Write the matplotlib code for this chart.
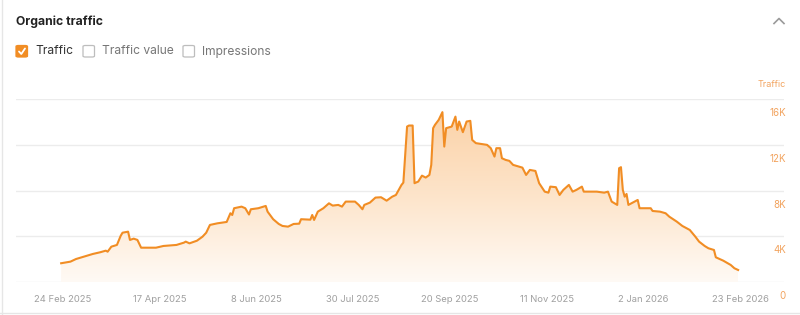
import numpy as np
import pandas as pd
import matplotlib
matplotlib.use('Agg')
import matplotlib.pyplot as plt
import matplotlib.dates as mdates
from matplotlib.colors import LinearSegmentedColormap
from matplotlib.patches import FancyBboxPatch

plt.rcParams['font.family'] = ['Inter', 'DejaVu Sans']

# (date, organic traffic)
dates = [
    '2025-02-23', '2025-02-28', '2025-03-03', '2025-03-07', '2025-03-12', '2025-03-16', '2025-03-19',
    '2025-03-20', '2025-03-22', '2025-03-25', '2025-03-27', '2025-03-28', '2025-03-31', '2025-04-01',
    '2025-04-03', '2025-04-05', '2025-04-07', '2025-04-15', '2025-04-19', '2025-04-26', '2025-04-30',
    '2025-05-01', '2025-05-03', '2025-05-07', '2025-05-10', '2025-05-12', '2025-05-14', '2025-05-18',
    '2025-05-23', '2025-05-25', '2025-05-26', '2025-05-27', '2025-05-31', '2025-06-02', '2025-06-04',
    '2025-06-05', '2025-06-09', '2025-06-13', '2025-06-14', '2025-06-17', '2025-06-20', '2025-06-22',
    '2025-06-25', '2025-06-28', '2025-07-01', '2025-07-02', '2025-07-07', '2025-07-08', '2025-07-09',
    '2025-07-11', '2025-07-14', '2025-07-17', '2025-07-19', '2025-07-22', '2025-07-24', '2025-07-26',
    '2025-07-31', '2025-08-02', '2025-08-04', '2025-08-05', '2025-08-08', '2025-08-11', '2025-08-14',
    '2025-08-17', '2025-08-20', '2025-08-22', '2025-08-25', '2025-08-26', '2025-08-28', '2025-08-29',
    '2025-08-31', '2025-09-01', '2025-09-03', '2025-09-05', '2025-09-07', '2025-09-09', '2025-09-10',
    '2025-09-11', '2025-09-12', '2025-09-14', '2025-09-16', '2025-09-17', '2025-09-18', '2025-09-21',
    '2025-09-23', '2025-09-24', '2025-09-25', '2025-09-27', '2025-09-29', '2025-10-01', '2025-10-02',
    '2025-10-04', '2025-10-10', '2025-10-12', '2025-10-14', '2025-10-15', '2025-10-17', '2025-10-18',
    '2025-10-20', '2025-10-22', '2025-10-24', '2025-10-29', '2025-10-31', '2025-11-02', '2025-11-05',
    '2025-11-07', '2025-11-10', '2025-11-12', '2025-11-13', '2025-11-16', '2025-11-18', '2025-11-20',
    '2025-11-23', '2025-11-25', '2025-11-27', '2025-11-30', '2025-12-01', '2025-12-08', '2025-12-12',
    '2025-12-14', '2025-12-16', '2025-12-19', '2025-12-20', '2025-12-21', '2025-12-22', '2025-12-23',
    '2025-12-24', '2025-12-25', '2025-12-30', '2025-12-31', '2026-01-06', '2026-01-07', '2026-01-11',
    '2026-01-14', '2026-01-16', '2026-01-20', '2026-01-23', '2026-01-27', '2026-01-30', '2026-02-01',
    '2026-02-04', '2026-02-06', '2026-02-09', '2026-02-10', '2026-02-14', '2026-02-18', '2026-02-20',
    '2026-02-22',
]
traffic = [
    1640, 1780, 2010, 2210, 2450, 2600, 2740,
    2650, 3090, 3240, 4030, 4310, 4400, 3680,
    3790, 3680, 3000, 3000, 3150, 3240, 3440,
    3530, 3380, 3610, 3960, 4310, 4990, 5130,
    5250, 6010, 5860, 6450, 6590, 6450, 5900,
    6360, 6450, 6650, 6150, 5490, 5075, 4900,
    4840, 5075, 5100, 5490, 5450, 5860, 5425,
    6150, 6450, 6880, 6680, 6740, 6590, 7030,
    7030, 6740, 6360, 6740, 6940, 7380, 7410,
    7110, 7460, 7610, 8490, 8690, 13590, 13680,
    13680, 8640, 8780, 9300, 9130, 9360, 10240,
    13450, 13740, 14175, 14850, 11840, 13450, 13590,
    14460, 13300, 14030, 13100, 14030, 14090, 12425,
    12140, 11990, 11700, 10965, 11700, 11700, 10820,
    10675, 10590, 10240, 10000, 9360, 9800, 9710,
    8640, 7900, 7810, 8340, 8290, 7610, 8050,
    8490, 7900, 8050, 8340, 7900, 7900, 7810,
    7900, 7030, 6740, 9950, 10040, 8050, 7460,
    7700, 6740, 7175, 6450, 6450, 6210, 6150,
    6010, 5710, 5280, 4900, 4550, 3960, 3530,
    3150, 2950, 2800, 2160, 1865, 1490, 1200,
    1050,
]
x_ticks = ['2025-02-24', '2025-04-17', '2025-06-08', '2025-07-30',
           '2025-09-20', '2025-11-11', '2026-01-02', '2026-02-23']
y_ticks = [0, 4000, 8000, 12000, 16000]
y_tick_labels = ['0', '4K', '8K', '12K', '16K']

LINE = '#f18d24'
TICK_ORANGE = '#f2a35e'
GREY = '#a0a0a0'

W, H = 800, 315


def px(x, y):
    # pixel (from top-left) -> figure fraction
    return x / W, 1 - y / H


def main():
    fig = plt.figure(figsize=(8, 3.15), dpi=100)

    # card border
    fig.add_artist(plt.Line2D([1.5 / W, 1.5 / W], [0, 1], color='#e6e6e6', lw=1))
    fig.add_artist(plt.Line2D([0, 1], [1 - 312.5 / H] * 2, color='#e6e6e6', lw=1))

    # header
    fig.text(*px(16, 22), 'Organic traffic', fontsize=8.8, fontweight='bold',
             color='#222222', va='center', ha='left')
    # collapse chevron
    fig.add_artist(plt.Line2D([774 / W, 779 / W, 784 / W],
                              [1 - 23.5 / H, 1 - 18.5 / H, 1 - 23.5 / H],
                              color='#9a9a9a', lw=1.2))

    # checkboxes
    boxes = [(16, 'Traffic', True), (83, 'Traffic value', False), (183, 'Impressions', False)]
    for bx, label, checked in boxes:
        x0, y0 = px(bx, 57)
        size_w, size_h = 11.5 / W, 11.5 / H
        box = FancyBboxPatch((x0, y0), size_w, size_h,
                             boxstyle='round,pad=0,rounding_size=0.003',
                             transform=fig.transFigure,
                             facecolor=LINE if checked else 'white',
                             edgecolor=LINE if checked else '#bdbdbd', lw=0.9)
        fig.add_artist(box)
        if checked:
            fig.add_artist(plt.Line2D([(bx + 3) / W, (bx + 5.3) / W, (bx + 9) / W],
                                      [1 - 51.5 / H, 1 - 54 / H, 1 - 48.5 / H],
                                      color='white', lw=1.3, solid_capstyle='round'))
        fig.text(*px(bx + 19, 51.5), label, fontsize=8.7,
                 color='#333333' if checked else '#777777', va='center', ha='left')

    # chart
    d = pd.to_datetime(dates)
    x = mdates.date2num(d)
    y = np.array(traffic, dtype=float)

    left, right = 16, 784
    top, bottom = 99, 282
    ax = fig.add_axes([left / W, 1 - bottom / H, (right - left) / W, (bottom - top) / H])
    x0 = mdates.date2num(pd.Timestamp('2025-02-24'))
    ppd = (740 - 63) / 364.0
    xlim = (x0 - (63 - left) / ppd, x0 + (right - 63) / ppd)

    for v in y_ticks:
        ax.axhline(v, color='#ececec', lw=1, zorder=0)

    poly = ax.fill_between(x, y, 0, color='none', lw=0)
    cmap = LinearSegmentedColormap.from_list('fade', ['#fffaf5', '#fde3c8', '#fbd0a3'])
    grad = np.linspace(0, 1, 256).reshape(-1, 1)
    img = ax.imshow(grad, cmap=cmap, aspect='auto', origin='lower',
                    extent=[x[0], x[-1], 0, 16000], zorder=1)
    img.set_clip_path(poly.get_paths()[0], transform=ax.transData)
    ax.plot(x, y, color=LINE, lw=1.5, zorder=3, solid_joinstyle='round')

    ax.set_xlim(*xlim)
    ax.set_ylim(0, 16000)
    for s in ax.spines.values():
        s.set_visible(False)
    ax.set_yticks([])
    ax.set_xticks(mdates.date2num(pd.to_datetime(x_ticks)))
    ax.set_xticklabels([pd.Timestamp(t).strftime('%-d %b %Y') for t in x_ticks],
                       fontsize=6.8, color=GREY)
    ax.tick_params(axis='x', length=0, pad=9)

    for v, lab in zip(y_ticks, y_tick_labels):
        ax.annotate(lab, xy=(786 / W, 1 - bottom / H), xycoords='figure fraction',
                    xytext=(0, -14 + v / 16000 * (bottom - top)), textcoords='offset pixels',
                    ha='right', va='center', fontsize=7, color=TICK_ORANGE)
    fig.text(*px(786, 85), 'Traffic', fontsize=6.5, color=TICK_ORANGE,
             ha='right', va='center')

    fig.savefig('out.png', dpi=100)


if __name__ == '__main__':
    main()
